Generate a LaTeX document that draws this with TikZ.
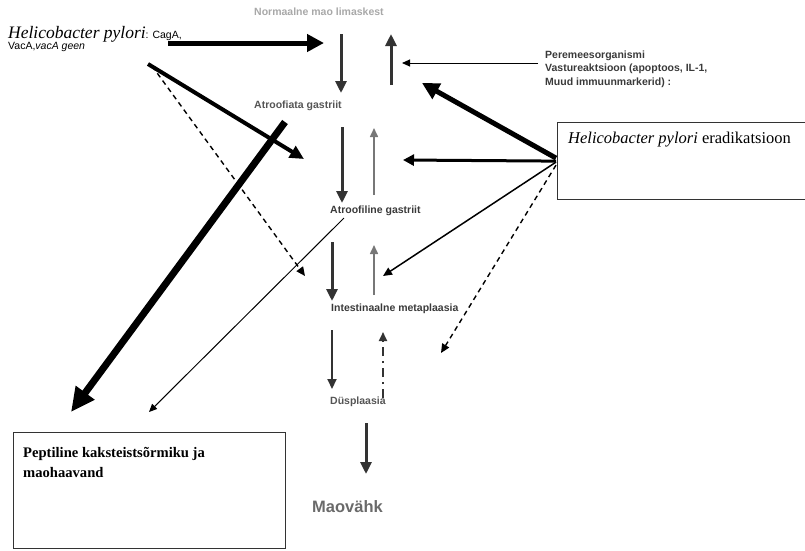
\documentclass[tikz,border=0pt]{standalone}
\usepackage{fontspec}
\setmainfont{Liberation Serif}
\setsansfont{Liberation Sans}
\usetikzlibrary{arrows.meta,calc}
\definecolor{lightgraytxt}{HTML}{A8A8A8}
\definecolor{midgray}{HTML}{555555}
\definecolor{darkgraytxt}{HTML}{3A3A3A}
\definecolor{arrowdark}{HTML}{333333}
\definecolor{arrowgray}{HTML}{777777}
\definecolor{cancergray}{HTML}{6A6A6A}
\begin{document}
\begin{tikzpicture}[x=1pt,y=-1pt,
  lbl/.style={font=\sffamily\bfseries\fontsize{10.5}{13.5}\selectfont, anchor=base west, inner sep=0pt, align=left},
  boxstyle/.style={draw=arrowdark, line width=1.2pt, inner sep=0pt},
  bigtxt/.style={anchor=base west, inner sep=0pt, align=left, font=\fontsize{16.5}{20}\selectfont},
  heavyarrow/.style={line width=5pt, -{Triangle[length=17pt,width=17pt]}},
  hugearrow/.style={line width=7pt, -{Triangle[length=24pt,width=22pt]}},
  medarrow/.style={line width=4pt, -{Triangle[length=14pt,width=13pt]}},
  vdark/.style={draw=arrowdark, line width=3pt, -{Triangle[length=12pt,width=11pt]}},
  vdarkthin/.style={draw=arrowdark, line width=2pt, -{Triangle[length=10pt,width=9pt]}},
  vgray/.style={draw=arrowgray, line width=1.6pt, -{Triangle[length=9pt,width=8pt]}},
  thinarrow/.style={line width=1pt, -{Triangle[length=8pt,width=7pt]}},
  midthinarrow/.style={line width=1.5pt, -{Triangle[length=9pt,width=8pt]}},
  dasharrow/.style={line width=1.4pt, dash pattern=on 5pt off 4pt, -{Triangle[length=9pt,width=8pt]}},
  dashdotarrow/.style={draw=arrowdark, line width=2pt, dash pattern=on 9pt off 5pt on 2pt off 5pt, -{Triangle[length=9pt,width=8pt]}}
]
\useasboundingbox (0,0) rectangle (805,550);

% labels
\node[lbl, text=lightgraytxt] (normal) at (254,15) {Normaalne mao limaskest};
\node[anchor=base west, inner sep=0pt, font=\fontsize{17.5}{18}\selectfont] (hp) at (8,38)
  {\itshape Helicobacter pylori\upshape\sffamily\fontsize{10.5}{12}\selectfont: CagA,};
\node[anchor=base west, inner sep=0pt, font=\sffamily\fontsize{10.5}{12}\selectfont] (hpgenes) at (8,49)
  {VacA,\itshape vacA geen};
\node[lbl, text=darkgraytxt] (host) at (545,85)
  {Peremeesorganismi\\Vastureaktsioon (apoptoos, IL-1,\\Muud immuunmarkerid) :};
\node[lbl, text=midgray] (atrofiata) at (254,108) {Atroofiata gastriit};
\node[lbl, text=darkgraytxt] (atrofiline) at (330,213) {Atroofiline gastriit};
\node[lbl, text=darkgraytxt] (metapl) at (331,311) {Intestinaalne metaplaasia};
\node[lbl, text=midgray] (dyspl) at (330,404) {Düsplaasia};
\node[anchor=base west, inner sep=0pt, text=cancergray, font=\sffamily\bfseries\fontsize{16.5}{18}\selectfont] (cancer) at (312,512) {Maovähk};

% boxes
\node[boxstyle, anchor=north west, minimum width=260pt, minimum height=77pt] (eradbox) at (557,122) {};
\node[bigtxt] (eradtxt) at (568,143) {\itshape Helicobacter pylori\upshape{} eradikatsioon};
\node[boxstyle, anchor=north west, minimum width=272pt, minimum height=116pt] (pepbox) at (13,432) {};
\node[bigtxt, font=\bfseries\fontsize{14.6}{20}\selectfont] (peptxt) at (23,477) {Peptiline kaksteistsõrmiku ja\\maohaavand};

% named endpoints
\coordinate (hpA) at (168,43);   \coordinate (hpAend) at (324,43);
\coordinate (d1s) at (341,34);   \coordinate (d1e) at (341,93);
\coordinate (u1s) at (391,85);   \coordinate (u1e) at (391,34);
\coordinate (hostend) at (402,63); \coordinate (hosts) at (538,63);
\coordinate (e1) at ($(eradbox.west)+(-1,-3)$);
\coordinate (e2) at ($(eradbox.west)+(-1,0)$);
\coordinate (e3) at ($(eradbox.west)+(-1,1)$);
\coordinate (e4) at ($(eradbox.west)+(-1,4)$);
\coordinate (e1end) at (422,83);
\coordinate (e2end) at (403,160);
\coordinate (e3end) at (383,276);
\coordinate (e4end) at (441,353);
\coordinate (hpB) at (148,64);   \coordinate (hpBend) at (304,159);
\coordinate (hpC) at (152,66);   \coordinate (hpCend) at (305,276);
\coordinate (bigS) at (285,122); \coordinate (bigE) at (71,412);
\coordinate (d2s) at (342,127);  \coordinate (d2e) at (342,203);
\coordinate (u2s) at (374,195);  \coordinate (u2e) at (374,128);
\coordinate (atS) at (344,218);  \coordinate (atE) at (149,412);
\coordinate (d3s) at (332,242);  \coordinate (d3e) at (332,301);
\coordinate (u3s) at (374,295);  \coordinate (u3e) at (374,245);
\coordinate (d4s) at (332,330);  \coordinate (d4e) at (332,389);
\coordinate (u4s) at (383,398);  \coordinate (u4e) at (383,332);
\coordinate (d5s) at (366,423);  \coordinate (d5e) at (366,474);

% connectors
\draw[heavyarrow] (hpA) -- (hpAend);
\draw[vdark] (d1s) -- (d1e);
\draw[vdark] (u1s) -- (u1e);
\draw[thinarrow] (hosts) -- (hostend);
\draw[heavyarrow] (e1) -- (e1end);
\draw[medarrow] (hpB) -- (hpBend);
\draw[dasharrow] (hpC) -- (hpCend);
\draw[hugearrow] (bigS) -- (bigE);
\draw[vdark] (d2s) -- (d2e);
\draw[vgray] (u2s) -- (u2e);
\draw[line width=3pt, -{Triangle[length=11pt,width=11pt]}] (e2) -- (e2end);
\draw[thinarrow] (atS) -- (atE);
\draw[midthinarrow] (e3) -- (e3end);
\draw[dasharrow] (e4) -- (e4end);
\draw[vdark] (d3s) -- (d3e);
\draw[vgray] (u3s) -- (u3e);
\draw[vdarkthin] (d4s) -- (d4e);
\draw[dashdotarrow] (u4s) -- (u4e);
\draw[vdark] (d5s) -- (d5e);
\end{tikzpicture}
\end{document}
